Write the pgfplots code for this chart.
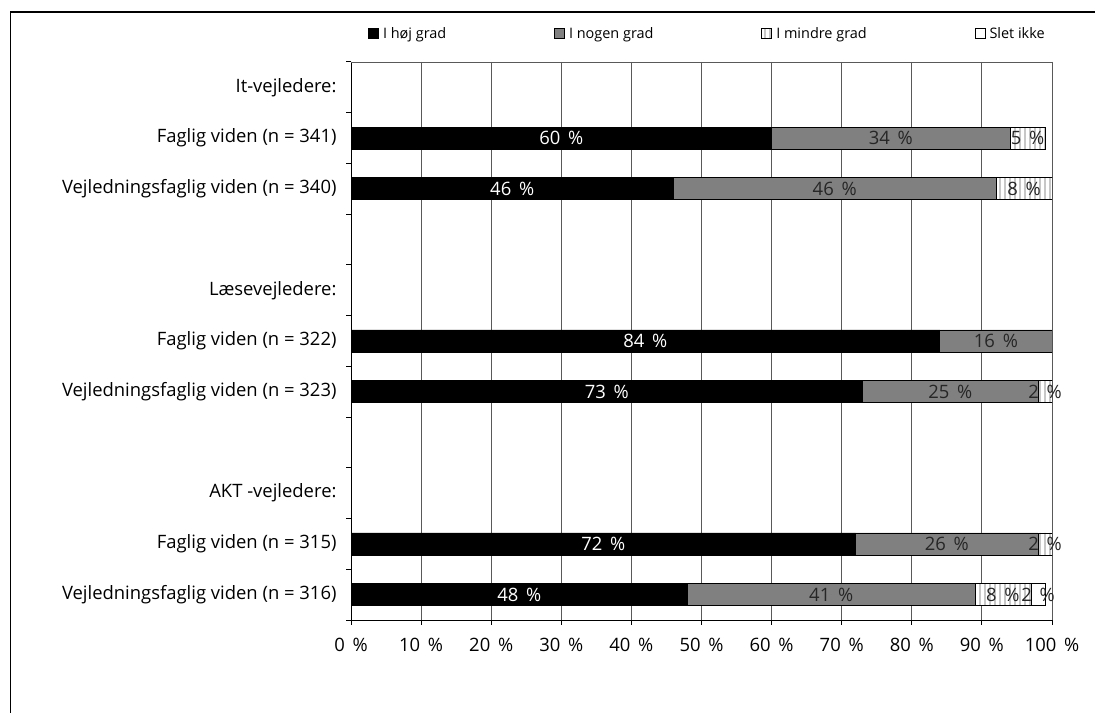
\documentclass[border=0pt]{standalone}
\usepackage{fontspec}
\setmainfont{Open Sans}
\usepackage{pgfplots}
\pgfplotsset{compat=1.18}
\usetikzlibrary{patterns.meta}

\newcommand\lblfont{\fontsize{18.5}{21}\selectfont}
\newcommand\legfont{\fontsize{14.5}{17}\selectfont}
\newcommand\pct{\hspace{0.42em}\%}

\pgfplotsset{
  sq legend/.style={
    legend image code/.code={
      \draw[##1, draw=black, line width=0.8bp] (0bp,-5bp) rectangle (10bp,5bp);
    }
  },
  stripes/.style={
    fill=white,
    postaction={pattern={Lines[angle=90, distance=5bp, line width=1.6bp]}, pattern color=black!22}
  },
}

\begin{document}
\begin{tikzpicture}[x=1bp, y=1bp]
\useasboundingbox (0,0) rectangle (1095,713);

% outer frame of the chart area
\begin{scope}
  \clip (0,0) rectangle (1095,713);
  \draw[line width=1.4bp] (10.5,-20) -- (10.5,701) -- (1200,701);
\end{scope}

\begin{axis}[
  at={(351bp,93bp)}, anchor=south west,
  scale only axis, width=701bp, height=558bp,
  xbar stacked, bar width=22bp,
  xmin=0, xmax=100, ymin=0, ymax=11, y dir=reverse,
  axis lines*=left,
  axis line style={-, black, line width=1bp},
  tick align=outside, major tick length=5bp, minor tick length=5bp,
  tick style={black, line width=1bp},
  xtick={0,10,...,100},
  xticklabels={0\pct,10\pct,20\pct,30\pct,40\pct,50\pct,60\pct,70\pct,80\pct,90\pct,100\pct},
  xticklabel style={yshift=-10bp},
  xmajorgrids, major grid style={black!65, line width=0.9bp},
  ytick={0.5,1.5,...,10.5},
  yticklabels={It-vejledere:, Faglig viden (n = 341), Vejledningsfaglig viden (n = 340), {}, Læsevejledere:, Faglig viden (n = 322), Vejledningsfaglig viden (n = 323), {}, AKT -vejledere:, Faglig viden (n = 315), Vejledningsfaglig viden (n = 316)},
  yticklabel style={xshift=-6bp},
  minor ytick={0,1,...,11},
  major y tick style={draw=none},
  minor y tick style={black, line width=1bp},
  tick label style={font=\lblfont},
  legend columns=4,
  legend style={draw=none, fill=none, at={(0.5,1)}, anchor=south, yshift=18bp,
    xshift=7bp,
    font=\legfont, /tikz/every even column/.append style={column sep=104bp},
    /tikz/every odd column/.append style={column sep=0bp},
    nodes={inner xsep=4bp}},
  legend cell align=left,
]
\addplot[sq legend, fill=black, draw=black, line width=0.8bp]
  coordinates {(60,1.5) (46,2.5) (84,5.5) (73,6.5) (72,9.5) (48,10.5)};
\addplot[sq legend, fill=black!50, draw=black, line width=0.8bp]
  coordinates {(34,1.5) (46,2.5) (16,5.5) (25,6.5) (26,9.5) (41,10.5)};
\addplot[sq legend, stripes, draw=black, line width=0.8bp]
  coordinates {(5,1.5) (8,2.5) (0,5.5) (2,6.5) (2,9.5) (8,10.5)};
\addplot[sq legend, fill=white, draw=black, line width=0.8bp]
  coordinates {(0,1.5) (0,2.5) (0,5.5) (0,6.5) (0,9.5) (2,10.5)};
\legend{I høj grad, I nogen grad, I mindre grad, Slet ikke}
\draw[black!65, line width=0.9bp] (axis cs:0,0) -- (axis cs:100,0);
\end{axis}

% value labels, centred in each bar segment
\begin{axis}[
  at={(351bp,93bp)}, anchor=south west,
  scale only axis, width=701bp, height=558bp,
  xmin=0, xmax=100, ymin=0, ymax=11, y dir=reverse,
  hide axis, clip=false,
]
\addplot[only marks, mark=*, mark size=0pt, mark options={draw=none, fill=none},
  point meta=explicit symbolic,
  nodes near coords={\pgfplotspointmeta\pct},
  every node near coord/.style={anchor=center, text=white, font=\lblfont}]
  table[x=x, y=y, meta=v] {
x    y    v
30   1.5  60
23   2.5  46
42   5.5  84
36.5 6.5  73
36   9.5  72
24   10.5 48
};
\addplot[only marks, mark=*, mark size=0pt, mark options={draw=none, fill=none},
  point meta=explicit symbolic,
  nodes near coords={\pgfplotspointmeta\pct},
  every node near coord/.style={anchor=center, text=black!85, font=\lblfont}]
  table[x=x, y=y, meta=v] {
x    y    v
77   1.5  34
96.5 1.5  5
69   2.5  46
96   2.5  8
92   5.5  16
85.5 6.5  25
99   6.5  2
85   9.5  26
99   9.5  2
68.5 10.5 41
93   10.5 8
98   10.5 2
};
\end{axis}
\end{tikzpicture}
\end{document}
